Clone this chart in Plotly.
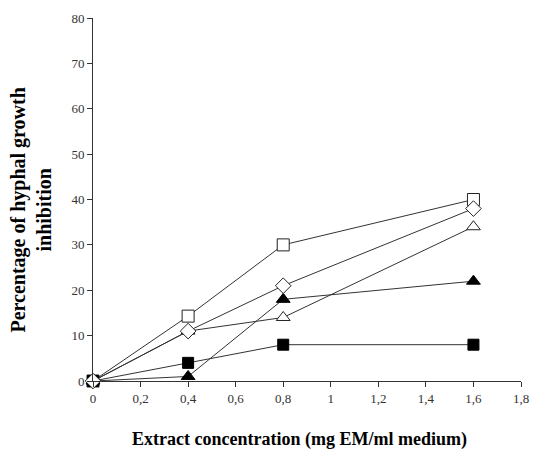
import plotly.graph_objects as go

x_vals = [0, 0.4, 0.8, 1.6]
open_square = [0, 14.3, 30, 40]
open_diamond = [0, 11, 21, 38]
open_triangle = [0, 11, 14, 34]
filled_triangle = [0, 1, 18, 22]
filled_square = [0, 4, 8, 8]

x_ticks = [0, 0.2, 0.4, 0.6, 0.8, 1.0, 1.2, 1.4, 1.6, 1.8]
y_ticks = [0, 10, 20, 30, 40, 50, 60, 70, 80]

series = [
    (open_square, "square", False, 12),
    (open_triangle, "triangle-up", False, 12),
    (filled_square, "square", True, 11),
    (filled_triangle, "triangle-up", True, 12),
    (open_diamond, "diamond", False, 12),
]

fig = go.Figure()
for ys, sym, filled, sz in series:
    marker = dict(symbol=sym, size=sz,
                  color="black" if filled else "white",
                  line=dict(color="black" if filled else "#222", width=1))
    fig.add_trace(go.Scatter(x=x_vals, y=ys, mode="lines+markers",
                             line=dict(color="#333", width=1), marker=marker,
                             cliponaxis=False, showlegend=False))

font_family = "Liberation Serif, Times New Roman, serif"
fig.update_layout(
    width=533, height=451,
    margin=dict(l=93, r=12, t=18, b=70),
    paper_bgcolor="white", plot_bgcolor="white",
    separators=", ",
    font=dict(family=font_family, size=13, color="#333"),
    xaxis=dict(range=[0, 1.8], tickvals=x_ticks, showgrid=False, zeroline=False,
               showline=True, linecolor="#333", linewidth=1, ticks="outside", ticklen=5,
               tickcolor="#333", automargin=False),
    yaxis=dict(range=[0, 80], tickvals=y_ticks, showgrid=False, zeroline=False,
               showline=True, linecolor="#333", linewidth=1, ticks="outside", ticklen=5,
               tickcolor="#333", automargin=False),
    annotations=[
        dict(text="<b>Extract concentration (mg EM/ml medium)</b>",
             xref="paper", yref="paper", x=(299 - 93) / 428, y=-0.16,
             xanchor="center", yanchor="middle", showarrow=False,
             font=dict(family=font_family, size=18, color="black")),
        dict(text="<b>Percentage of hyphal growth<br>inhibition</b>",
             xref="paper", yref="paper", x=-0.1437, y=0.471, textangle=-90,
             xanchor="center", yanchor="middle", showarrow=False,
             font=dict(family=font_family, size=20, color="black")),
    ],
)

fig.write_html("out.html", config={"displayModeBar": False},
               post_script="document.body.style.margin='0';document.body.style.overflow='hidden';")
